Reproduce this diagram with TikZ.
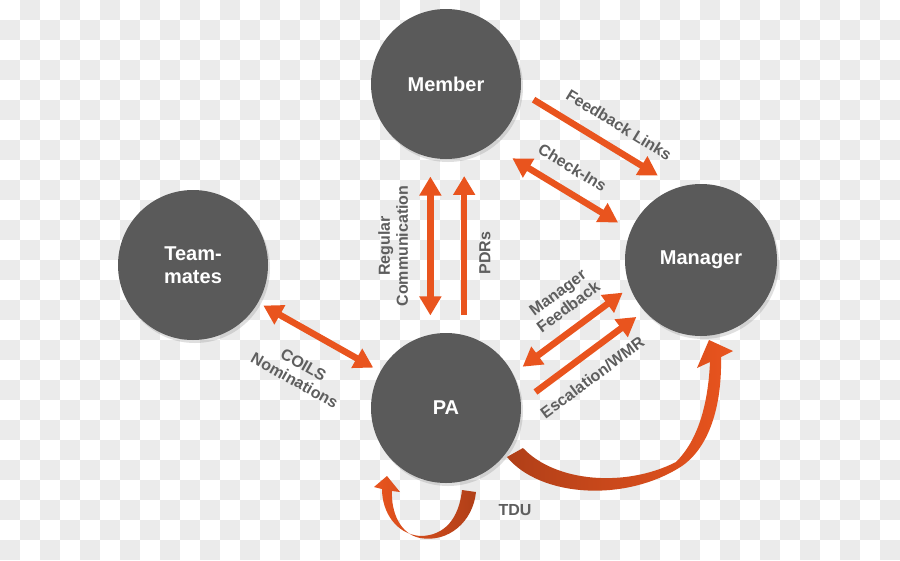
\documentclass[tikz,border=0pt]{standalone}
\usepackage{fontspec}
\setmainfont{Liberation Sans}
\usetikzlibrary{arrows.meta,shadows}
\definecolor{discgray}{HTML}{5A5A5A}
\definecolor{arrorange}{HTML}{E9541E}
\definecolor{arrdark}{HTML}{B03F18}
\definecolor{lblgray}{HTML}{5E5E5E}
\definecolor{checkgray}{HTML}{EBEBEB}

\begin{document}
\begin{tikzpicture}[x=1pt, y=-1pt,
        disc/.style ={circle, fill=discgray, minimum size=150pt, inner sep=0pt,
            text=white, align=center, font=\fontsize{20}{23}\selectfont\bfseries,
            drop shadow={opacity=0.25, shadow xshift=2pt, shadow yshift=-3pt}},
        lbl/.style ={font=\fontsize{16}{18}\selectfont\bfseries, text=lblgray,
            inner sep=2pt, align=center},
        flow/.style ={draw=arrorange, line width=6.5pt,
            -{Triangle[width=21pt,length=19pt]}},
        flowboth/.style ={flow,
            {Triangle[width=21pt,length=19pt]}-{Triangle[width=21pt,length=19pt]}}]
    \useasboundingbox (0,0) rectangle (900,560);

    %--- Background ---
    \fill[white] (0,0) rectangle (900,560);
    \foreach \j in {0,...,27}
        \foreach \i in {0,...,22}
            \fill[checkgray] ({40*\i+20*mod(\j+1,2)},{20*\j}) rectangle ++(20,20);

    %--- Nodes ---
    \node[disc] (Member) at (446,84) {Member};
    \node[disc] (Mates) at (193,265) {Team-\\mates};
    \node[disc, minimum size=152pt] (Manager) at (701,260) {Manager};
    \node[disc] (PA) at (446,408) {PA};

    %--- Member / Manager ---
    \draw[flow, shorten <=15pt, shorten >=23pt] (Member.-6) -- (Manager.108)
        node[lbl, pos=0.55, sloped, above=12pt] {Feedback Links};

    \draw[flowboth, shorten <=26pt, shorten >=15pt] (Member.-54) -- (Manager.157)
        node[lbl, midway, sloped, above=12pt] {Check-Ins};

    %--- PA / Member ---
    \draw[flowboth, shorten <=19pt, shorten >=19pt] (PA.102) -- (Member.-102)
        node[lbl, midway, sloped, above=17pt] {Regular\\Communication};

    \draw[flow, shorten <=20pt, shorten >=19pt] (PA.76) -- (Member.-76)
        node[lbl, pos=0.46, sloped, below=10pt] {PDRs};

    %--- Team-mates / PA ---
    \draw[flowboth, shorten <=6pt, shorten >=8pt] (Mates.-30) -- (PA.151)
        node[lbl, midway, sloped, below=21pt] {COILS\\Nominations};

    %--- PA / Manager ---
    \draw[flowboth, shorten <=12pt, shorten >=9pt] (PA.27) -- (Manager.-159)
        node[lbl, pos=0.58, sloped, above=10pt] {Manager\\Feedback};

    \draw[flow, shorten <=18pt, shorten >=10pt] (PA.4) -- (Manager.-138)
        node[lbl, pos=0.47, sloped, below=11pt] {Escalation/WMR};

    %--- Curved ribbons ---
    \shade[left color=arrdark, right color=arrorange]
        (507,457) .. controls (540,497) and (625,503) .. (682,466)
        .. controls (712,445) and (722,400) .. (721,357)
        -- (733,351) -- (709,340) -- (697,368) -- (710,362)
        .. controls (708,405) and (698,440) .. (676,462)
        .. controls (625,488) and (555,482) .. (523,448) -- cycle;

    \shade[left color=arrorange, right color=arrdark]
        (476,492) .. controls (473,522) and (448,543) .. (420,538)
        .. controls (400,534) and (391,512) .. (392,491)
        -- (400,492) -- (387,476) -- (374,487) -- (382,489)
        .. controls (382,512) and (396,534) .. (420,536)
        .. controls (445,536) and (459,518) .. (462,490) -- cycle;

    \node[lbl] (TDU) at (515,510) {TDU};
\end{tikzpicture}
\end{document}
